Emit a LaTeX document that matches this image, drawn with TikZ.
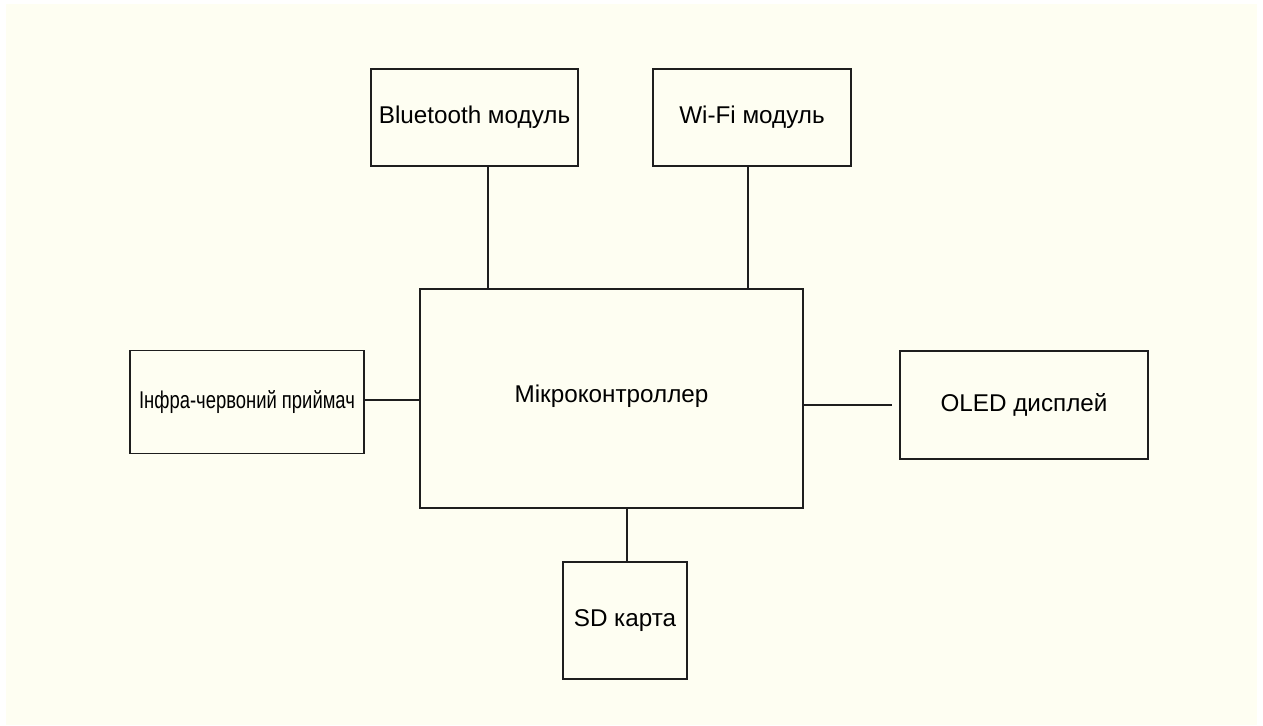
\documentclass[tikz,border=0pt]{standalone}
\usepackage{fontspec}
\setmainfont{Liberation Sans}
\newfontfamily\narrowfont[FakeStretch=0.76]{Liberation Sans}
\usepackage{tikz}
\usetikzlibrary{positioning,calc}
\definecolor{paper}{RGB}{254,254,242}
\definecolor{edge}{RGB}{30,30,30}
\tikzset{
  block/.style ={rectangle, draw=edge, line width=0.9pt, fill=paper,
                 align=center, inner sep=0pt, font=\fontsize{13.8}{16}\selectfont},
  link/.style  ={draw=edge, line width=0.9pt},
}

\begin{document}
\begin{tikzpicture}[x=0.02cm, y=-0.02cm]
    \useasboundingbox (0,0) rectangle (1263,726);
    \fill[white] (0,0) rectangle (1263,726);
    \fill[paper] (6,4) rectangle (1257,725);
    \node[block, minimum width=383*0.02cm, minimum height=219*0.02cm] (mcu) at (611.5,398.5) {\raisebox{5pt}{Мікроконтроллер}};
    \node[block, minimum width=207*0.02cm, minimum height=97*0.02cm] (bt) at (474.5,117.5) {Bluetooth модуль};
    \node[block, minimum width=198*0.02cm, minimum height=97*0.02cm] (wifi) at (752,117.5) {Wi-Fi модуль};
    \node[block, minimum width=234*0.02cm, minimum height=103*0.02cm] (ir) at (247,402) {\narrowfont Інфра-червоний приймач};
    \node[block, minimum width=248*0.02cm, minimum height=108*0.02cm] (oled) at (1024,405) {OLED дисплей};
    \node[block, minimum width=124*0.02cm, minimum height=117*0.02cm] (sd) at (625,620.5) {SD карта};
    \draw[link] ($(bt.south)+(13.5,0)$) coordinate (btc) -- (btc |- mcu.north);
    \draw[link] ($(wifi.south)+(-4,0)$) coordinate (wfc) -- (wfc |- mcu.north);
    \draw[link] ($(ir.east)+(0,-2)$) coordinate (irc) -- (irc -| mcu.west);
    \draw[link] (mcu.east |- oled.west) -- ($(oled.west)+(-7,0)$);
    \draw[link] ($(sd.north)+(2,0)$) coordinate (sdc) -- (sdc |- mcu.south);
  \end{tikzpicture}
\end{document}
